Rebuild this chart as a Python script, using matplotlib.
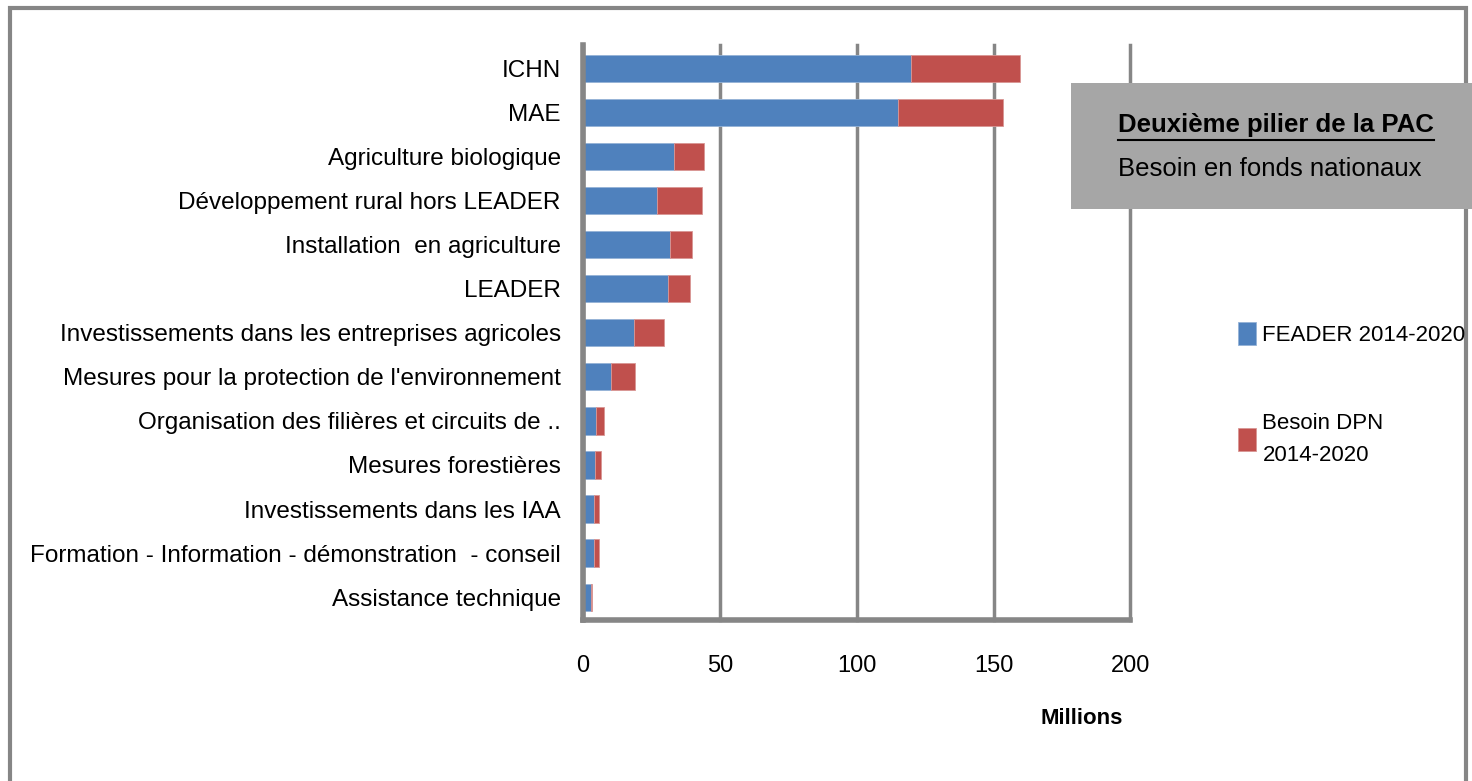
import matplotlib.pyplot as plt
from matplotlib.patches import Rectangle
from matplotlib.lines import Line2D

plt.rcParams['font.family'] = ['Liberation Sans Narrow', 'Liberation Sans', 'DejaVu Sans']

# Données (millions d'euros)
categories = ["ICHN", "MAE", "Agriculture biologique", "Développement rural hors LEADER",
              "Installation  en agriculture", "LEADER",
              "Investissements dans les entreprises agricoles",
              "Mesures pour la protection de l'environnement",
              "Organisation des filières et circuits de ..", "Mesures forestières",
              "Investissements dans les IAA",
              "Formation - Information - démonstration  - conseil", "Assistance technique"]
feader = [120, 115, 33.3, 27.2, 31.7, 31, 18.6, 10.2, 4.9, 4.3, 4.1, 4.1, 3.0]
besoin_dpn = [39.8, 38.3, 10.9, 16.2, 8.1, 8.0, 11.0, 8.8, 2.9, 2.2, 1.7, 1.7, 0.4]
xticks = [0, 50, 100, 150, 200]

blue = '#4F81BD'
red = '#C0504D'
grey = '#868686'

fig = plt.figure(figsize=(14.72, 7.81), dpi=100)
ax = fig.add_axes([0.396, 0.206, 0.372, 0.736])

y = range(len(categories))
b1 = ax.barh(y, feader, height=0.62, color=blue, edgecolor='#95B3D7', linewidth=0.6,
             label='FEADER 2014-2020')
b2 = ax.barh(y, besoin_dpn, left=feader, height=0.62, color=red, edgecolor='#D99694',
             linewidth=0.6, label='Besoin DPN\n2014-2020')

ax.set_xlim(0, 200)
ax.set_ylim(len(categories) - 0.48, -0.52)
ax.set_yticks(list(y))
ax.set_yticklabels(categories, fontsize=17.5)
ax.set_xticks(xticks)
ax.set_xticklabels([str(v) for v in xticks], fontsize=17)
ax.tick_params(axis='y', length=0, pad=16)
ax.tick_params(axis='x', length=0, pad=25)

ax.xaxis.grid(True, color=grey, linewidth=2.5)
for gl in ax.get_xgridlines():
    gl.set_clip_on(False)
ax.set_axisbelow(True)
for s in ['top', 'right']:
    ax.spines[s].set_visible(False)
for s in ['left', 'bottom']:
    ax.spines[s].set_color(grey)
    ax.spines[s].set_linewidth(4)

fig.text(1082 / 1472, 1 - 719 / 781, 'Millions', fontsize=16, fontweight='bold',
         ha='center', va='center')

# Cadre gris autour du graphique
fig.patches.append(Rectangle((10 / 1472, -0.01), 1456 / 1472, 1 - 8 / 781 + 0.01,
                             transform=fig.transFigure, fill=False,
                             edgecolor=grey, linewidth=3))

# Encadré titre
fig.patches.append(Rectangle((1071 / 1472, 1 - 209 / 781), 410 / 1472, 126 / 781,
                             transform=fig.transFigure, facecolor='#A6A6A6',
                             edgecolor='none', zorder=3))
t1 = fig.text(1118 / 1472, 1 - 125 / 781, 'Deuxième pilier de la PAC', fontsize=18.5,
              fontweight='bold', ha='left', va='center', zorder=4)
fig.text(1118 / 1472, 1 - 169 / 781, 'Besoin en fonds nationaux', fontsize=18.5,
         ha='left', va='center', zorder=4)

fig.canvas.draw()
bb = t1.get_window_extent().transformed(fig.transFigure.inverted())
fig.lines.append(Line2D([bb.x0, bb.x1], [bb.y0 - 0.004, bb.y0 - 0.004],
                        transform=fig.transFigure, color='black', linewidth=1.5, zorder=4))

leg = fig.legend(handles=[b1, b2], loc='upper left', bbox_to_anchor=(1218 / 1472, 1 - 302 / 781),
                 frameon=False, fontsize=16, handlelength=0.8, handleheight=1.2,
                 handletextpad=0.3, labelspacing=3.0)
leg.get_texts()[1].set_linespacing(1.7)

fig.savefig('out.png', dpi=100, facecolor='white')
